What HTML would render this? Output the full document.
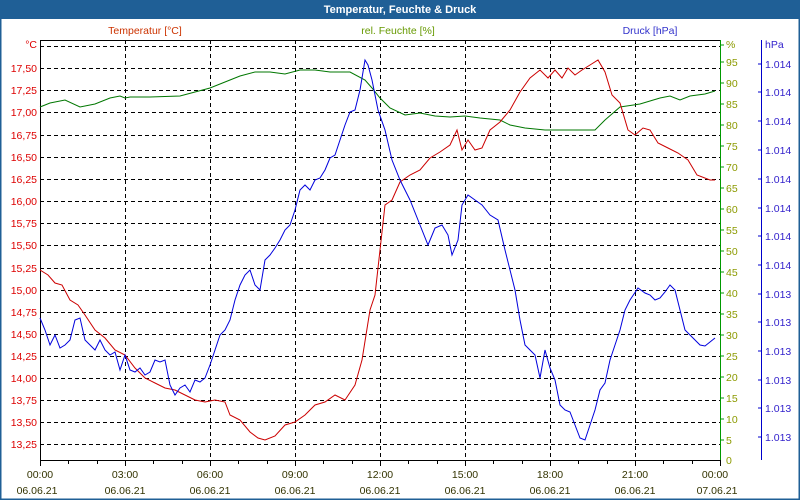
<!DOCTYPE html>
<html><head><meta charset="utf-8"><style>
body{margin:0;background:#fff;}
svg{display:block;font-family:"Liberation Sans",Tahoma,sans-serif;font-size:10.5px}
</style></head><body>
<svg width="800" height="500" xmlns="http://www.w3.org/2000/svg">
<rect x="0" y="0" width="800" height="500" fill="#fff"/>
<rect x="0.5" y="0.5" width="799" height="499" fill="none" stroke="#1f5f96" stroke-width="2"/>
<rect x="0" y="0" width="800" height="19" fill="#1f5f96"/>
<text x="400" y="13" fill="#fff" font-weight="bold" font-size="11" text-anchor="middle">Temperatur, Feuchte &amp; Druck</text>
<text x="145" y="34" fill="#cc3300" text-anchor="middle">Temperatur [°C]</text>
<text x="398" y="34" fill="#669900" text-anchor="middle">rel. Feuchte [%]</text>
<text x="650" y="34" fill="#3333cc" text-anchor="middle">Druck [hPa]</text>
<g stroke="#000" stroke-dasharray="4,3" stroke-width="1">
<line x1="40" y1="46.5" x2="720" y2="46.5"/><line x1="40" y1="68.5" x2="720" y2="68.5"/><line x1="40" y1="90.5" x2="720" y2="90.5"/><line x1="40" y1="112.5" x2="720" y2="112.5"/><line x1="40" y1="135.5" x2="720" y2="135.5"/><line x1="40" y1="157.5" x2="720" y2="157.5"/><line x1="40" y1="179.5" x2="720" y2="179.5"/><line x1="40" y1="201.5" x2="720" y2="201.5"/><line x1="40" y1="223.5" x2="720" y2="223.5"/><line x1="40" y1="245.5" x2="720" y2="245.5"/><line x1="40" y1="268.5" x2="720" y2="268.5"/><line x1="40" y1="290.5" x2="720" y2="290.5"/><line x1="40" y1="312.5" x2="720" y2="312.5"/><line x1="40" y1="334.5" x2="720" y2="334.5"/><line x1="40" y1="356.5" x2="720" y2="356.5"/><line x1="40" y1="378.5" x2="720" y2="378.5"/><line x1="40" y1="400.5" x2="720" y2="400.5"/><line x1="40" y1="422.5" x2="720" y2="422.5"/><line x1="40" y1="444.5" x2="720" y2="444.5"/>
<line x1="125.5" y1="40" x2="125.5" y2="460"/><line x1="210.5" y1="40" x2="210.5" y2="460"/><line x1="295.5" y1="40" x2="295.5" y2="460"/><line x1="380.5" y1="40" x2="380.5" y2="460"/><line x1="465.5" y1="40" x2="465.5" y2="460"/><line x1="550.5" y1="40" x2="550.5" y2="460"/><line x1="635.5" y1="40" x2="635.5" y2="460"/>
</g>
<line x1="40" y1="40.5" x2="720" y2="40.5" stroke="#000"/>
<line x1="40.5" y1="40" x2="40.5" y2="461" stroke="#000"/>
<line x1="40" y1="460.5" x2="720" y2="460.5" stroke="#000"/>
<line x1="720.5" y1="40" x2="720.5" y2="461" stroke="#009900"/>
<line x1="761.5" y1="40" x2="761.5" y2="460" stroke="#0000cc"/>
<g fill="#dd0000" text-anchor="end">
<text x="37" y="48">°C</text><text x="37" y="72">17,50</text><text x="37" y="94">17,25</text><text x="37" y="116">17,00</text><text x="37" y="139">16,75</text><text x="37" y="161">16,50</text><text x="37" y="183">16,25</text><text x="37" y="205">16,00</text><text x="37" y="227">15,75</text><text x="37" y="249">15,50</text><text x="37" y="272">15,25</text><text x="37" y="294">15,00</text><text x="37" y="316">14,75</text><text x="37" y="338">14,50</text><text x="37" y="360">14,25</text><text x="37" y="382">14,00</text><text x="37" y="404">13,75</text><text x="37" y="426">13,50</text><text x="37" y="448">13,25</text>
</g>
<g stroke="#009900">
<line x1="720" y1="45" x2="724" y2="45"/><line x1="720" y1="62" x2="724" y2="62"/><line x1="720" y1="83" x2="724" y2="83"/><line x1="720" y1="104" x2="724" y2="104"/><line x1="720" y1="125" x2="724" y2="125"/><line x1="720" y1="146" x2="724" y2="146"/><line x1="720" y1="167" x2="724" y2="167"/><line x1="720" y1="188" x2="724" y2="188"/><line x1="720" y1="209" x2="724" y2="209"/><line x1="720" y1="230" x2="724" y2="230"/><line x1="720" y1="251" x2="724" y2="251"/><line x1="720" y1="272" x2="724" y2="272"/><line x1="720" y1="293" x2="724" y2="293"/><line x1="720" y1="314" x2="724" y2="314"/><line x1="720" y1="335" x2="724" y2="335"/><line x1="720" y1="356" x2="724" y2="356"/><line x1="720" y1="377" x2="724" y2="377"/><line x1="720" y1="398" x2="724" y2="398"/><line x1="720" y1="419" x2="724" y2="419"/><line x1="720" y1="440" x2="724" y2="440"/>
</g>
<g fill="#8c9a00">
<text x="726" y="48">%</text><text x="726" y="66">95</text><text x="726" y="87">90</text><text x="726" y="108">85</text><text x="726" y="129">80</text><text x="726" y="150">75</text><text x="726" y="171">70</text><text x="726" y="192">65</text><text x="726" y="213">60</text><text x="726" y="234">55</text><text x="726" y="255">50</text><text x="726" y="276">45</text><text x="726" y="297">40</text><text x="726" y="318">35</text><text x="726" y="339">30</text><text x="726" y="360">25</text><text x="726" y="381">20</text><text x="726" y="402">15</text><text x="726" y="423">10</text><text x="726" y="444">5</text><text x="726" y="464">0</text>
</g>
<g stroke="#0000cc">
<line x1="758" y1="64" x2="761" y2="64"/><line x1="758" y1="92" x2="761" y2="92"/><line x1="758" y1="121" x2="761" y2="121"/><line x1="758" y1="150" x2="761" y2="150"/><line x1="758" y1="179" x2="761" y2="179"/><line x1="758" y1="208" x2="761" y2="208"/><line x1="758" y1="236" x2="761" y2="236"/><line x1="758" y1="265" x2="761" y2="265"/><line x1="758" y1="294" x2="761" y2="294"/><line x1="758" y1="322" x2="761" y2="322"/><line x1="758" y1="351" x2="761" y2="351"/><line x1="758" y1="380" x2="761" y2="380"/><line x1="758" y1="408" x2="761" y2="408"/><line x1="758" y1="437" x2="761" y2="437"/>
</g>
<g fill="#3322cc">
<text x="765" y="48">hPa</text>
<text x="765" y="68">1.014</text><text x="765" y="96">1.014</text><text x="765" y="125">1.014</text><text x="765" y="154">1.014</text><text x="765" y="183">1.014</text><text x="765" y="212">1.014</text><text x="765" y="240">1.014</text><text x="765" y="269">1.014</text><text x="765" y="298">1.013</text><text x="765" y="326">1.013</text><text x="765" y="355">1.013</text><text x="765" y="384">1.013</text><text x="765" y="412">1.013</text><text x="765" y="441">1.013</text>
</g>
<g stroke="#000">
<line x1="40.5" y1="460" x2="40.5" y2="466"/><line x1="68.5" y1="460" x2="68.5" y2="464"/><line x1="97.5" y1="460" x2="97.5" y2="464"/><line x1="125.5" y1="460" x2="125.5" y2="466"/><line x1="153.5" y1="460" x2="153.5" y2="464"/><line x1="182.5" y1="460" x2="182.5" y2="464"/><line x1="210.5" y1="460" x2="210.5" y2="466"/><line x1="238.5" y1="460" x2="238.5" y2="464"/><line x1="267.5" y1="460" x2="267.5" y2="464"/><line x1="295.5" y1="460" x2="295.5" y2="466"/><line x1="323.5" y1="460" x2="323.5" y2="464"/><line x1="352.5" y1="460" x2="352.5" y2="464"/><line x1="380.5" y1="460" x2="380.5" y2="466"/><line x1="408.5" y1="460" x2="408.5" y2="464"/><line x1="437.5" y1="460" x2="437.5" y2="464"/><line x1="465.5" y1="460" x2="465.5" y2="466"/><line x1="493.5" y1="460" x2="493.5" y2="464"/><line x1="522.5" y1="460" x2="522.5" y2="464"/><line x1="550.5" y1="460" x2="550.5" y2="466"/><line x1="578.5" y1="460" x2="578.5" y2="464"/><line x1="607.5" y1="460" x2="607.5" y2="464"/><line x1="635.5" y1="460" x2="635.5" y2="466"/><line x1="663.5" y1="460" x2="663.5" y2="464"/><line x1="692.5" y1="460" x2="692.5" y2="464"/><line x1="720.5" y1="460" x2="720.5" y2="466"/>
</g>
<g fill="#333300" text-anchor="middle">
<text x="40" y="478">00:00</text><text x="125" y="478">03:00</text><text x="210" y="478">06:00</text><text x="295" y="478">09:00</text><text x="380" y="478">12:00</text><text x="465" y="478">15:00</text><text x="550" y="478">18:00</text><text x="635" y="478">21:00</text><text x="715" y="478">00:00</text>
<text x="37" y="494">06.06.21</text><text x="125" y="494">06.06.21</text><text x="210" y="494">06.06.21</text><text x="295" y="494">06.06.21</text><text x="380" y="494">06.06.21</text><text x="465" y="494">06.06.21</text><text x="550" y="494">06.06.21</text><text x="635" y="494">06.06.21</text><text x="717" y="494">07.06.21</text>
</g>
<polyline fill="none" stroke="#007700" stroke-width="1" points="40,107 50,103 65,100 80,107 95,104 110,98 120,96 125,98 130,97 150,97 180,96 195,92 210,88 225,82 240,76 255,72 270,72 285,74 300,70 315,70 330,72 350,72 365,80 372,88 380,98 390,108 405,115 420,113 435,116 450,117 465,116 480,118 500,120 510,125 525,128 545,130 560,130 575,130 595,130 605,120 620,107 640,104 660,98 670,96 680,100 690,96 705,94 715,91"/>
<polyline fill="none" stroke="#cc0000" stroke-width="1" points="40,270 48,275 55,283 62,285 70,300 78,305 85,315 95,330 105,338 115,350 125,355 135,368 145,378 155,383 165,388 175,390 185,395 195,400 205,402 215,400 225,402 230,415 240,420 250,432 258,438 265,440 275,436 285,425 295,422 305,415 315,405 325,402 335,395 345,400 355,385 362,360 370,310 375,295 380,250 385,205 392,200 400,182 410,175 420,170 430,158 440,152 450,145 457,130 462,150 468,140 475,150 482,148 490,130 500,122 510,110 520,92 530,78 540,70 548,78 555,70 562,78 568,68 575,75 582,70 590,65 598,60 605,72 612,95 620,103 628,130 635,135 643,128 650,130 658,143 668,148 678,153 688,160 697,175 710,180 715,180"/>
<polyline fill="none" stroke="#0000dd" stroke-width="1" points="40,318 45,330 50,345 55,335 60,348 65,345 70,340 75,320 80,318 85,340 90,345 95,350 100,340 105,350 110,355 115,352 120,370 125,355 130,370 135,372 140,368 145,375 150,372 155,360 160,362 165,360 170,385 175,395 180,388 185,385 190,392 195,380 200,382 205,378 210,365 215,350 220,335 225,330 230,320 235,300 240,285 245,275 250,270 255,285 260,290 265,260 270,255 275,248 280,240 285,230 290,225 295,210 300,190 305,185 310,190 315,180 320,178 325,170 330,158 335,155 340,140 345,125 350,112 355,110 360,90 365,60 368,65 372,80 378,110 385,130 392,160 400,180 410,200 420,225 428,245 435,228 442,225 448,235 452,255 458,240 462,205 468,195 475,200 482,205 490,215 498,220 505,250 515,290 520,320 525,345 530,350 535,355 540,378 545,350 550,368 555,380 560,405 565,410 570,412 575,425 580,438 585,440 590,425 595,410 600,390 605,383 610,360 615,345 620,330 625,310 630,300 638,288 645,293 650,295 655,300 660,298 665,292 670,285 675,290 680,310 685,330 690,335 695,340 700,345 705,346 710,342 715,338"/>
</svg>
</body></html>
